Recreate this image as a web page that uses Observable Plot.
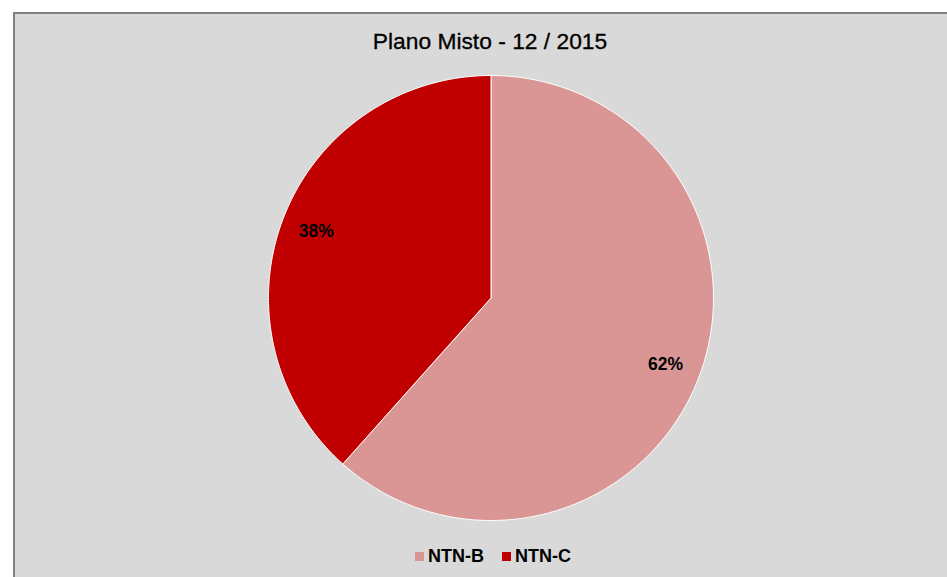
<!DOCTYPE html>
<html><head><meta charset="utf-8">
<script src="https://cdn.jsdelivr.net/npm/d3@7"></script>
<script src="https://cdn.jsdelivr.net/npm/@observablehq/plot@0.6"></script>
<style>
html,body{margin:0;padding:0;background:#fff;width:947px;height:577px;overflow:hidden;font-family:"Liberation Sans",Arial,sans-serif;}
#panel{position:absolute;left:13px;top:12px;width:932px;height:563px;background:#D9D9D9;border-left:2px solid #808080;border-top:2px solid #808080;}
#title{position:absolute;left:0;top:28px;width:980px;text-align:center;font-size:22.8px;color:#000;line-height:26px;-webkit-text-stroke:0.3px #000;}
#chart{position:absolute;left:268px;top:75px;width:445px;height:445px;}
#legend{position:absolute;top:546px;left:415px;font-size:18px;font-weight:bold;line-height:21px;white-space:nowrap;}
#legend span.sw{display:inline-block;width:9px;height:9px;margin-right:4px;vertical-align:1px;}
#legend span.item{margin-right:18px;}
</style></head>
<body>
<div id="panel"></div>
<div id="title">Plano Misto - 12 / 2015</div>
<div id="chart"></div>
<div id="legend"></div>
<script>
const categories = ["NTN-B", "NTN-C"];
const values = [61.6, 38.4];
const labels = ["62%", "38%"];
const colors = ["#D99694", "#C00000"];

const rows = categories.map((c, i) => ({name: c, value: values[i], label: labels[i]}));
const arcs = d3.pie().sort(null).value(d => d.value)(rows);

const poly = [];
const labelPts = [];
for (const a of arcs) {
  const n = 180;
  poly.push({name: a.data.name, x: 0, y: 0});
  for (let k = 0; k <= n; k++) {
    const t = a.startAngle + (a.endAngle - a.startAngle) * k / n;
    poly.push({name: a.data.name, x: Math.sin(t), y: Math.cos(t)});
  }
  poly.push({name: a.data.name, x: 0, y: 0});
  const m = (a.startAngle + a.endAngle) / 2;
  labelPts.push({label: a.data.label, x: 0.84 * Math.sin(m), y: 0.84 * Math.cos(m)});
}

const chart = Plot.plot({
  width: 445, height: 445,
  margin: 0,
  x: {domain: [-1, 1], axis: null},
  y: {domain: [-1, 1], axis: null},
  color: {domain: categories, range: colors},
  style: {background: "transparent", overflow: "visible"},
  marks: [
    Plot.line(poly, {x: "x", y: "y", z: "name", fill: "name", stroke: "white", strokeWidth: 1, curve: "linear"}),
    Plot.text(labelPts, {x: "x", y: "y", text: "label", fontSize: 17.5, fontWeight: "bold", fill: "#000", fontFamily: "Liberation Sans, Arial, sans-serif"})
  ]
});
document.getElementById("chart").appendChild(chart);

const lg = document.getElementById("legend");
categories.forEach((c, i) => {
  const item = document.createElement("span");
  item.className = "item";
  item.innerHTML = `<span class="sw" style="background:${colors[i]}"></span>${c}`;
  lg.appendChild(item);
});
</script>
</body></html>
